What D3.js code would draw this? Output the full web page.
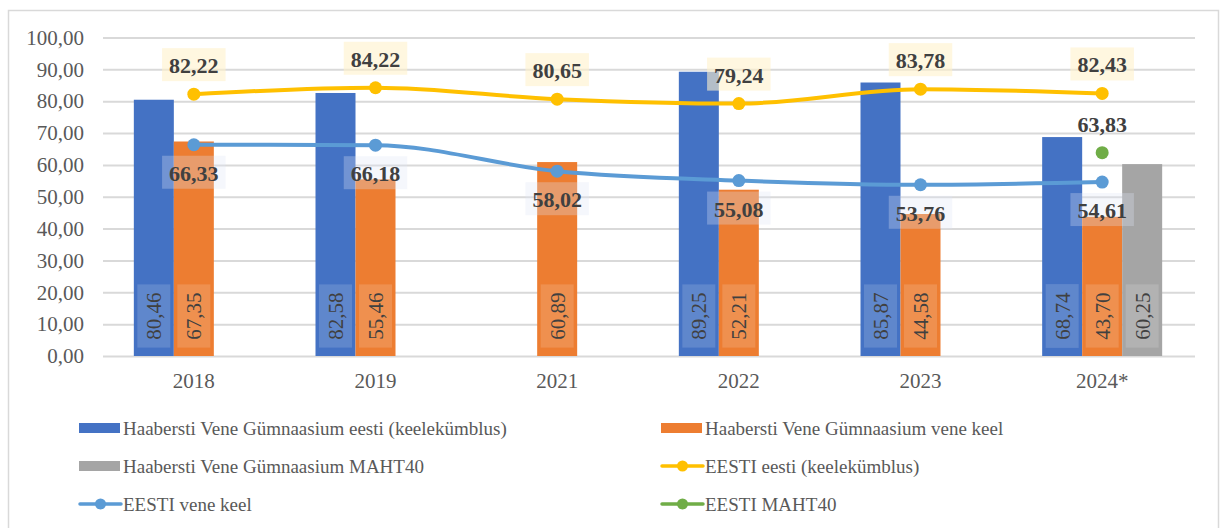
<!DOCTYPE html>
<html>
<head>
<meta charset="utf-8">
<script src="https://cdn.jsdelivr.net/npm/d3@7"></script>
<style>
  body { margin: 0; background: #fff; }
</style>
</head>
<body>
<div id="chart"></div>
<script>
// chart data
const categories = ["2018", "2019", "2021", "2022", "2023", "2024*"];
const hvgEesti = [80.46, 82.58, null, 89.25, 85.87, 68.74];   // Haabersti Vene Gümnaasium eesti (keelekümblus)
const hvgVene = [67.35, 55.46, 60.89, 52.21, 44.58, 43.70];   // Haabersti Vene Gümnaasium vene keel
const hvgMaht = [null, null, null, null, null, 60.25];        // Haabersti Vene Gümnaasium MAHT40
const eestiEesti = [82.22, 84.22, 80.65, 79.24, 83.78, 82.43]; // EESTI eesti (keelekümblus)
const eestiVene = [66.33, 66.18, 58.02, 55.08, 53.76, 54.61];  // EESTI vene keel
const eestiMaht = [null, null, null, null, null, 63.83];       // EESTI MAHT40
const yTicks = [0, 10, 20, 30, 40, 50, 60, 70, 80, 90, 100];

const barSeries = [
    {name: "Haabersti Vene Gümnaasium eesti (keelekümblus)", values: hvgEesti, color: "#4472C4"},
    {name: "Haabersti Vene Gümnaasium vene keel", values: hvgVene, color: "#ED7D31"},
    {name: "Haabersti Vene Gümnaasium MAHT40", values: hvgMaht, color: "#A5A5A5"}
];
const lineSeries = [
    {name: "EESTI eesti (keelekümblus)", values: eestiEesti, color: "#FFC000", label: "above", bg: "#FFF2CC", bgOpacity: 0.6},
    {name: "EESTI vene keel", values: eestiVene, color: "#5B9BD5", label: "below", bg: "#DDE6F4", bgOpacity: 0.3},
    {name: "EESTI MAHT40", values: eestiMaht, color: "#70AD47", label: "above", bg: null, bgOpacity: 0}
];

draw();

function draw() {
    // dimensional constants
    const svgwidth = 1221;
    const svgheight = 528;
    const plot = {left: 103, right: 1193, top: 37.5, bottom: 356};
    const font_family = "'Liberation Serif', 'Times New Roman', serif";
    const grid_color = "#d9d9d9";

    const locale = d3.formatLocale({decimal: ",", thousands: " ", grouping: [3], currency: ["", ""]});
    const fmt = locale.format(".2f");

    const svg = d3.select("#chart").append("svg")
        .attr("width", svgwidth)
        .attr("height", svgheight)
        .style("font-family", font_family);

    // outer chart border
    svg.append("rect")
        .attr("x", 8.5).attr("y", 10.5)
        .attr("width", 1210).attr("height", 530)
        .attr("fill", "none")
        .attr("stroke", grid_color)
        .attr("stroke-width", 1.5);

    // scales
    const xScale = d3.scaleBand()
        .domain(categories)
        .range([plot.left, plot.right]);
    const barScale = d3.scaleBand()
        .domain(barSeries.map(d => d.name))
        .range([-60, 60]); // three slots per category, centred on the category
    const yScale = d3.scaleLinear()
        .domain([0, 100])
        .range([plot.bottom, plot.top]);
    const cx = c => xScale(c) + xScale.bandwidth() / 2;

    // gridlines + y axis
    const yAxis = d3.axisLeft(yScale)
        .tickValues(yTicks)
        .tickSize(-(1195 - plot.left))
        .tickPadding(19)
        .tickFormat(fmt);
    const yg = svg.append("g")
        .attr("transform", `translate(${plot.left},0)`)
        .call(yAxis);
    yg.select(".domain").remove();
    yg.selectAll(".tick line").attr("stroke", grid_color).attr("stroke-width", 2);
    yg.selectAll(".tick text")
        .attr("fill", "#595959")
        .style("font-size", "21px")
        .style("font-family", font_family);

    // x axis labels
    const xAxis = d3.axisBottom(xScale).tickSize(0).tickPadding(17);
    const xg = svg.append("g")
        .attr("transform", `translate(0,${plot.bottom})`)
        .call(xAxis);
    xg.select(".domain").remove();
    xg.selectAll(".tick text")
        .attr("fill", "#595959")
        .style("font-size", "21px")
        .style("font-family", font_family);

    // bars
    const barData = [];
    barSeries.forEach(s => {
        s.values.forEach((v, i) => {
            if (v != null) barData.push({series: s, cat: categories[i], value: v});
        });
    });
    const bars = svg.append("g").attr("class", "bars")
        .selectAll("g")
        .data(barData)
        .enter().append("g");
    bars.append("rect")
        .attr("x", d => cx(d.cat) + barScale(d.series.name))
        .attr("y", d => yScale(d.value))
        .attr("width", barScale.bandwidth())
        .attr("height", d => yScale(0) - yScale(d.value))
        .attr("fill", d => d.series.color);

    // bar labels, rotated, sitting at the base of each bar
    bars.each(function (d) {
        const g = d3.select(this);
        const x = cx(d.cat) + barScale(d.series.name) + barScale.bandwidth() / 2;
        const y = yScale(0) - 40;
        const bg = g.append("rect");
        const t = g.append("text")
            .text(fmt(d.value))
            .attr("transform", `translate(${x},${y}) rotate(-90)`)
            .attr("text-anchor", "middle")
            .attr("dy", "0.35em")
            .attr("fill", "#404040")
            .style("font-size", "21px");
        const bb = t.node().getBBox();
        bg.attr("x", x - 16.5)
            .attr("y", y - bb.width / 2 - 8)
            .attr("width", 33)
            .attr("height", bb.width + 16)
            .attr("fill", "#fff")
            .attr("fill-opacity", 0.15);
    });

    // lines (smoothed like the spreadsheet, without overshoot)
    const line = d3.line()
        .defined(d => d.value != null)
        .x(d => cx(d.cat))
        .y(d => yScale(d.value))
        .curve(d3.curveMonotoneX);

    lineSeries.forEach(s => {
        const pts = s.values.map((v, i) => ({cat: categories[i], value: v}));
        svg.append("path")
            .datum(pts)
            .attr("d", line)
            .attr("fill", "none")
            .attr("stroke", s.color)
            .attr("stroke-width", 4)
            .attr("stroke-linecap", "round");
        svg.append("g").selectAll("circle")
            .data(pts.filter(d => d.value != null))
            .enter().append("circle")
            .attr("cx", d => cx(d.cat))
            .attr("cy", d => yScale(d.value))
            .attr("r", 6.5)
            .attr("fill", s.color);
    });

    // line labels (drawn after all lines so they sit on top)
    lineSeries.forEach(s => {
        s.values.forEach((v, i) => {
            if (v == null) return;
            const x = cx(categories[i]);
            const y = yScale(v) + (s.label == "above" ? -21 : 36);
            const bg = svg.append("rect");
            const t = svg.append("text")
                .text(fmt(v))
                .attr("x", x).attr("y", y)
                .attr("text-anchor", "middle")
                .attr("fill", "#404040")
                .style("font-size", "22px")
                .style("font-weight", "bold");
            if (s.bg) {
                const bb = t.node().getBBox();
                bg.attr("x", bb.x - 7)
                    .attr("y", y - 25)
                    .attr("width", bb.width + 14)
                    .attr("height", 33)
                    .attr("fill", s.bg)
                    .attr("fill-opacity", s.bgOpacity);
            } else bg.remove();
        });
    });

    // legend, two columns
    const legendItems = [
        {s: barSeries[0], type: "bar"}, {s: barSeries[1], type: "bar"},
        {s: barSeries[2], type: "bar"}, {s: lineSeries[0], type: "line"},
        {s: lineSeries[1], type: "line"}, {s: lineSeries[2], type: "line"}
    ];
    const colX = [79, 661];
    const rowY = [428, 466, 504];
    legendItems.forEach((item, i) => {
        const g = svg.append("g")
            .attr("transform", `translate(${colX[i % 2]},${rowY[Math.floor(i / 2)]})`);
        if (item.type == "bar") {
            g.append("rect")
                .attr("x", 0).attr("y", -5)
                .attr("width", 41).attr("height", 10)
                .attr("fill", item.s.color);
        } else {
            g.append("line")
                .attr("x1", 1).attr("x2", 42)
                .attr("stroke", item.s.color)
                .attr("stroke-width", 3.5)
                .attr("stroke-linecap", "round");
            g.append("circle")
                .attr("cx", 21.5).attr("r", 5.5)
                .attr("fill", item.s.color);
        }
        g.append("text")
            .text(item.s.name)
            .attr("x", 44)
            .attr("y", 7)
            .attr("fill", "#595959")
            .style("font-size", "19px");
    });
}
</script>
</body>
</html>
